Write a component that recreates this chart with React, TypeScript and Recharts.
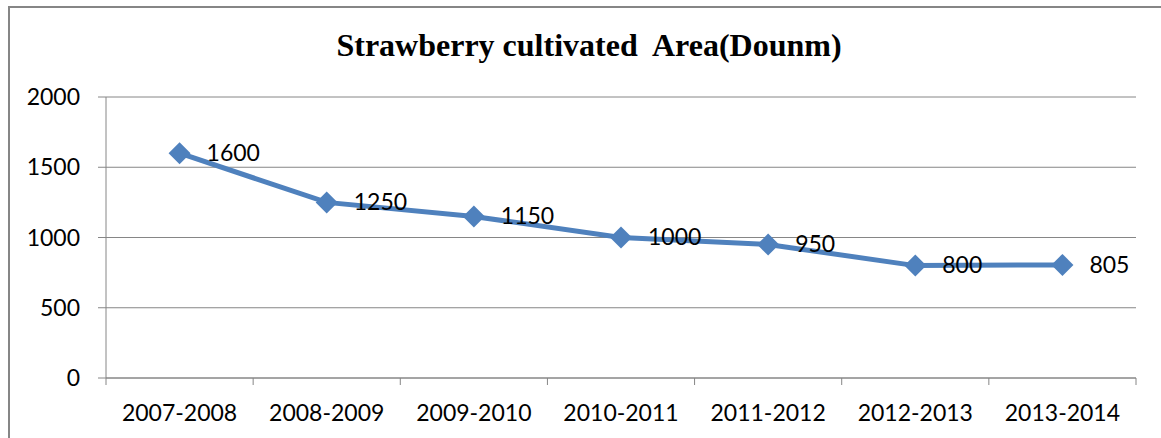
import { LineChart, Line, XAxis, YAxis, CartesianGrid, LabelList } from 'recharts'

const SEASONS = ['2007-2008', '2008-2009', '2009-2010', '2010-2011', '2011-2012', '2012-2013', '2013-2014']
const AREA = [1600, 1250, 1150, 1000, 950, 800, 805]
const Y_TICKS = [0, 500, 1000, 1500, 2000]

const data = SEASONS.map((season, i) => ({ season, area: AREA[i] }))

const W = 1161
const H = 438
const MARGIN = { top: 97, right: 25, bottom: 0, left: 0 }
const Y_AXIS_W = 106
const X_AXIS_H = 60
const PLOT_LEFT = MARGIN.left + Y_AXIS_W
const PLOT_RIGHT = W - MARGIN.right
const PLOT_BOTTOM = H - MARGIN.bottom - X_AXIS_H
const BAND = (PLOT_RIGHT - PLOT_LEFT) / SEASONS.length

const BLUE = '#4F81BD'
const GRID = '#868686'
const FONT = 'Lato, "Liberation Sans", sans-serif'

// category labels sit in the middle of each band, tick marks on the band edges
function SeasonTick(props: any) {
  const { x, index, payload } = props
  const left = x - BAND / 2
  const right = x + BAND / 2
  return (
    <g>
      <line x1={left} x2={left} y1={PLOT_BOTTOM} y2={PLOT_BOTTOM + 7} stroke={GRID} />
      {index === SEASONS.length - 1 && (
        <line x1={right} x2={right} y1={PLOT_BOTTOM} y2={PLOT_BOTTOM + 7} stroke={GRID} />
      )}
      <text x={x} y={PLOT_BOTTOM + 43} textAnchor="middle" fill="#000" fontSize={23} fontFamily={FONT}>
        {payload.value}
      </text>
    </g>
  )
}

function Diamond(props: any) {
  const { cx, cy } = props
  if (cx == null || cy == null) return null
  const r = 11
  return <polygon points={`${cx},${cy - r} ${cx + r},${cy} ${cx},${cy + r} ${cx - r},${cy}`} fill={BLUE} />
}

function ValueLabel(props: any) {
  const { x, y, value } = props
  return (
    <text x={x + 27} y={y + 2} dominantBaseline="middle" fill="#000" fontSize={23} fontFamily={FONT}>
      {value}
    </text>
  )
}

export default function App() {
  return (
    <div style={{ position: 'absolute', left: 0, top: 0, width: W, height: H, overflow: 'hidden', background: '#fff' }}>
      <div
        style={{
          position: 'absolute',
          left: 8,
          top: 6,
          width: W,
          height: H,
          borderLeft: `2px solid ${GRID}`,
          borderTop: `2px solid ${GRID}`,
        }}
      />
      <div style={{ position: 'absolute', left: 0, top: 0 }}>
        <LineChart width={W} height={H} data={data} margin={MARGIN}>
          <text
            x={589}
            y={56}
            textAnchor="middle"
            fontFamily='"Liberation Serif", "Times New Roman", serif'
            fontWeight="bold"
            fontSize={32}
            fill="#000"
            style={{ whiteSpace: 'pre' }}
          >
            Strawberry cultivated  Area(Dounm)
          </text>
          <CartesianGrid vertical={false} stroke={GRID} />
          <XAxis
            dataKey="season"
            height={X_AXIS_H}
            padding={{ left: BAND / 2, right: BAND / 2 }}
            interval={0}
            tickLine={false}
            axisLine={{ stroke: GRID }}
            tick={<SeasonTick />}
          />
          <YAxis
            domain={[0, 2000]}
            ticks={Y_TICKS}
            interval={0}
            width={Y_AXIS_W}
            tickSize={8}
            tickMargin={18}
            axisLine={{ stroke: GRID }}
            tickLine={{ stroke: GRID }}
            tick={{ fill: '#000', fontSize: 23, fontFamily: FONT }}
          />
          <Line
            dataKey="area"
            stroke={BLUE}
            strokeWidth={5}
            dot={(p: any) => <Diamond key={p.index} {...p} />}
            activeDot={false}
            isAnimationActive={false}
          >
            <LabelList dataKey="area" content={<ValueLabel />} />
          </Line>
        </LineChart>
      </div>
    </div>
  )
}
